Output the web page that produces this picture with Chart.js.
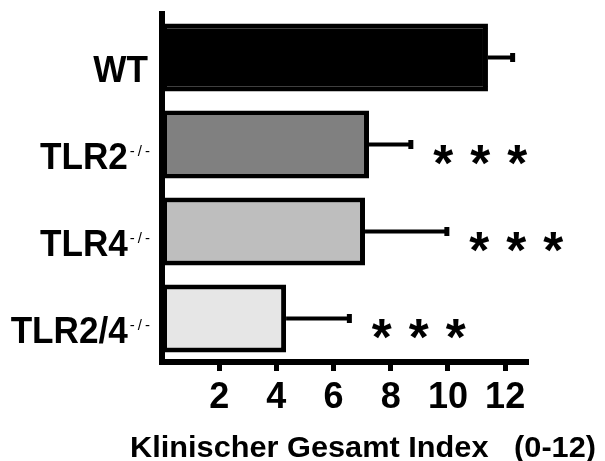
<!DOCTYPE html>
<html lang="de">
<head>
<meta charset="UTF-8">
<title>Klinischer Gesamt Index</title>
<script src="https://cdn.jsdelivr.net/npm/chart.js"></script>
<style>
  html, body { margin: 0; padding: 0; background: #fff; }
  .chart-box { width: 605px; height: 461px; position: relative; }
</style>
</head>
<body>
<div class="chart-box"><canvas id="indexChart"></canvas></div>
<script>
  // Gruppen und Werte
  const groups = ['WT', 'TLR2', 'TLR4', 'TLR2/4'];
  const groupSup = ['', '-/-', '-/-', '-/-'];
  const meanIndex = [11.4, 7.24, 7.1, 4.34];
  const errIndex = [0.95, 1.55, 2.95, 2.3];
  const signif = ['', '***', '***', '***'];
  const xTicks = [2, 4, 6, 8, 10, 12];
  const barColors = ['#000000', '#808080', '#bebebe', '#e6e6e6'];
  const axisTitle = 'Klinischer Gesamt Index   (0-12)';

  const FONT = '"Liberation Sans", Arial, sans-serif';

  // Fehlerbalken, Sterne, Gruppennamen und Achsentitel
  const extras = {
    id: 'extras',
    afterDatasetsDraw(chart) {
      const ctx = chart.ctx, xs = chart.scales.x, ys = chart.scales.y;
      ctx.save();
      ctx.strokeStyle = '#000';
      ctx.fillStyle = '#000';

      // Sterngröße so wählen, dass ein Stern ca. 20px breit ist
      ctx.font = 'bold 100px ' + FONT;
      const m100 = ctx.measureText('*');
      const starSize = 100 * 20 / (m100.actualBoundingBoxLeft + m100.actualBoundingBoxRight);
      ctx.font = 'bold ' + starSize.toFixed(1) + 'px ' + FONT;
      const sm = ctx.measureText('*');
      const halfH = (sm.actualBoundingBoxAscent - sm.actualBoundingBoxDescent) / 2;

      groups.forEach((g, i) => {
        const cy = ys.getPixelForValue(i);
        const x0 = xs.getPixelForValue(meanIndex[i]);
        const x1 = xs.getPixelForValue(meanIndex[i] + errIndex[i]);
        ctx.lineWidth = 4;
        ctx.beginPath();
        ctx.moveTo(x0, cy);
        ctx.lineTo(x1 - 2, cy);
        ctx.stroke();
        ctx.fillRect(x1 - 5, cy - 4.5, 5, 9);

        // Signifikanzsterne, Mitte etwas unter der Balkenmitte
        ctx.textAlign = 'left';
        ctx.textBaseline = 'alphabetic';
        for (let k = 0; k < signif[i].length; k++) {
          const left = x1 + 20 + k * 37;
          ctx.fillText(signif[i][k], left + sm.actualBoundingBoxLeft, cy + 10 + halfH);
        }
      });
      ctx.restore();
    },
    afterDraw(chart) {
      const ctx = chart.ctx, ys = chart.scales.y;
      ctx.save();
      ctx.fillStyle = '#000';
      ctx.textBaseline = 'alphabetic';
      const right = 150;
      groups.forEach((g, i) => {
        const base = ys.getPixelForValue(i) + 24;
        let mainRight = right - 2;
        if (groupSup[i]) {
          ctx.font = '15px ' + FONT;
          ctx.letterSpacing = '3px';
          const supW = ctx.measureText(groupSup[i]).width;
          ctx.textAlign = 'left';
          ctx.fillText(groupSup[i], right - supW + 3, base - 13);
          ctx.letterSpacing = '0px';
          mainRight = right - supW + 1;
        }
        ctx.font = 'bold 37px ' + FONT;
        ctx.textAlign = 'right';
        ctx.save();
        ctx.translate(mainRight, base);
        ctx.scale(0.95, 1);
        ctx.fillText(g, 0, 0);
        ctx.restore();
      });

      // Achsentitel
      ctx.font = 'bold 30px ' + FONT;
      const w = ctx.measureText(axisTitle).width;
      ctx.textAlign = 'left';
      ctx.save();
      ctx.translate(130, 457);
      ctx.scale(466 / w, 1);
      ctx.fillText(axisTitle, 0, 0);
      ctx.restore();
      ctx.restore();
    }
  };

  new Chart(document.getElementById('indexChart'), {
    type: 'bar',
    data: {
      labels: groups,
      datasets: [{
        data: meanIndex,
        backgroundColor: barColors,
        borderColor: '#000',
        borderWidth: 5,
        borderSkipped: false,
        barPercentage: 0.78,
        categoryPercentage: 1
      }]
    },
    options: {
      indexAxis: 'y',
      responsive: true,
      maintainAspectRatio: false,
      animation: false,
      layout: { padding: { top: 14, right: 77, left: 0, bottom: 0 } },
      plugins: { legend: { display: false }, tooltip: { enabled: false } },
      scales: {
        x: {
          type: 'linear',
          min: 0,
          max: 12.8,
          afterBuildTicks: s => { s.ticks = xTicks.map(v => ({ value: v })); },
          afterFit: s => { s.height = 99; },
          grid: {
            display: true,
            drawOnChartArea: false,
            drawTicks: true,
            tickLength: 9,
            tickWidth: 5,
            tickColor: '#000'
          },
          border: { display: true, color: '#000', width: 6 },
          ticks: {
            color: '#000',
            padding: 5,
            font: { family: FONT, size: 36, weight: 'bold' }
          }
        },
        y: {
          afterFit: s => { s.width = 162; },
          grid: { display: false },
          border: { display: true, color: '#000', width: 6 },
          ticks: { display: false }
        }
      }
    },
    plugins: [extras]
  });
</script>
</body>
</html>
